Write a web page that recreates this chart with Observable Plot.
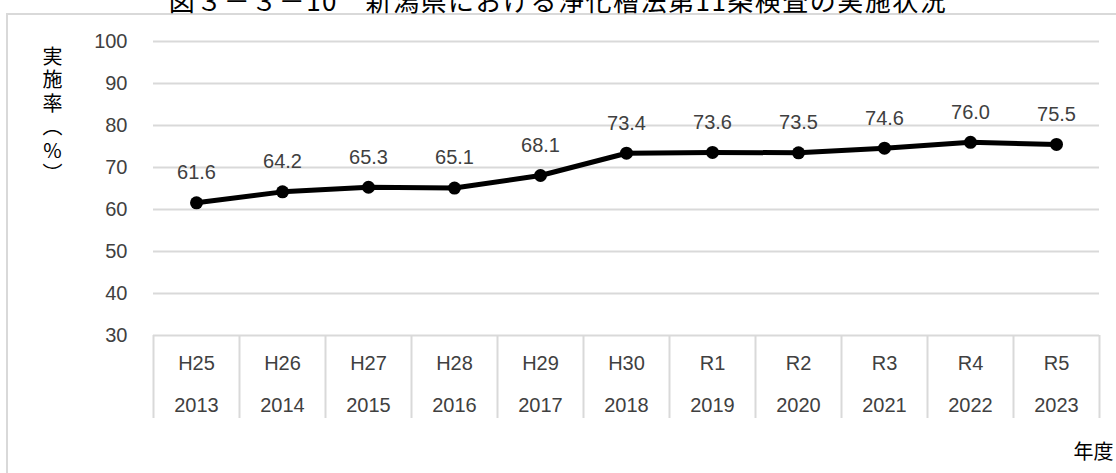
<!DOCTYPE html>
<html>
<head>
<meta charset="utf-8">
<script src="https://cdn.jsdelivr.net/npm/d3@7"></script>
<script src="https://cdn.jsdelivr.net/npm/@observablehq/plot@0.6"></script>
<style>
  html, body { margin: 0; padding: 0; background: #fff; overflow: hidden; }
  #wrap { position: relative; width: 1116px; height: 473px; overflow: hidden; font-family: "Noto Sans CJK JP", sans-serif; }
  #frame { position: absolute; left: 6px; top: 13px; width: 1200px; height: 600px; border: 2px solid #d9d9d9; box-sizing: border-box; }
  #title { position: absolute; left: 0; width: 1116px; top: -16px; text-align: center; font-size: 26px; letter-spacing: 1.5px; color: #000; white-space: pre; line-height: 32px; }
  #ylabel { position: absolute; left: 38px; top: 46px; writing-mode: vertical-rl; text-orientation: upright; font-size: 20px; letter-spacing: 3.5px; color: #000; }
  #chart { position: absolute; left: 0; top: 0; }
</style>
</head>
<body>
<div id="wrap">
  <div id="frame"></div>
  <div id="title">図３－３－10　新潟県における浄化槽法第11条検査の実施状況</div>
  <div id="ylabel">実施率︵%︶</div>
  <div id="chart"></div>
</div>
<script>
const eraLabels = ["H25","H26","H27","H28","H29","H30","R1","R2","R3","R4","R5"];
const yearLabels = ["2013","2014","2015","2016","2017","2018","2019","2020","2021","2022","2023"];
const rates = [61.6, 64.2, 65.3, 65.1, 68.1, 73.4, 73.6, 73.5, 74.6, 76.0, 75.5];
const yTicks = [30, 40, 50, 60, 70, 80, 90, 100];
const xUnitLabel = "年度";

const rows = rates.map((v, i) => ({i, v, era: eraLabels[i], year: yearLabels[i]}));
const bounds = d3.range(eraLabels.length + 1).map(k => k - 0.5);

const numFont = "Liberation Sans";
const plot = Plot.plot({
  width: 1116,
  height: 473,
  marginLeft: 153,
  marginRight: 17,
  marginTop: 41,
  marginBottom: 138,
  style: {fontFamily: numFont, fontSize: "20px", color: "#404040", background: "transparent", overflow: "visible"},
  x: {domain: [-0.5, eraLabels.length - 0.5], axis: null},
  y: {domain: [30, 100], axis: null},
  marks: [
    Plot.gridY(yTicks, {stroke: "#d9d9d9", strokeOpacity: 1, strokeWidth: 2}),
    Plot.axisY(yTicks, {tickSize: 0, tickPadding: 26, fontSize: 20, fill: "#404040", label: null, letterSpacing: "1.5px"}),
    Plot.ruleX(bounds, {x: d => d, y1: 30, y2: 30, insetBottom: -83, stroke: "#d9d9d9", strokeWidth: 2}),
    Plot.text(rows, {x: "i", text: "era", frameAnchor: "bottom", lineAnchor: "middle", dy: 28, fill: "#404040", fontSize: 20, letterSpacing: "1px"}),
    Plot.text(rows, {x: "i", text: "year", frameAnchor: "bottom", lineAnchor: "middle", dy: 70, fill: "#404040", fontSize: 20, letterSpacing: "1.5px"}),
    Plot.line(rows, {x: "i", y: "v", stroke: "#000", strokeWidth: 5, strokeLinejoin: "round"}),
    Plot.dot(rows, {x: "i", y: "v", r: 6.5, fill: "#000"}),
    Plot.text(rows, {x: "i", y: "v", text: d => d.v.toFixed(1), dy: -30, fill: "#404040", fontSize: 20, letterSpacing: "1.5px"}),
    Plot.text([xUnitLabel], {text: d => d, frameAnchor: "bottom-right", lineAnchor: "middle", textAnchor: "end", dx: 14, dy: 117, fill: "#000", fontSize: 20, fontFamily: "Noto Sans CJK JP"})
  ]
});
document.getElementById("chart").appendChild(plot);
</script>
</body>
</html>
